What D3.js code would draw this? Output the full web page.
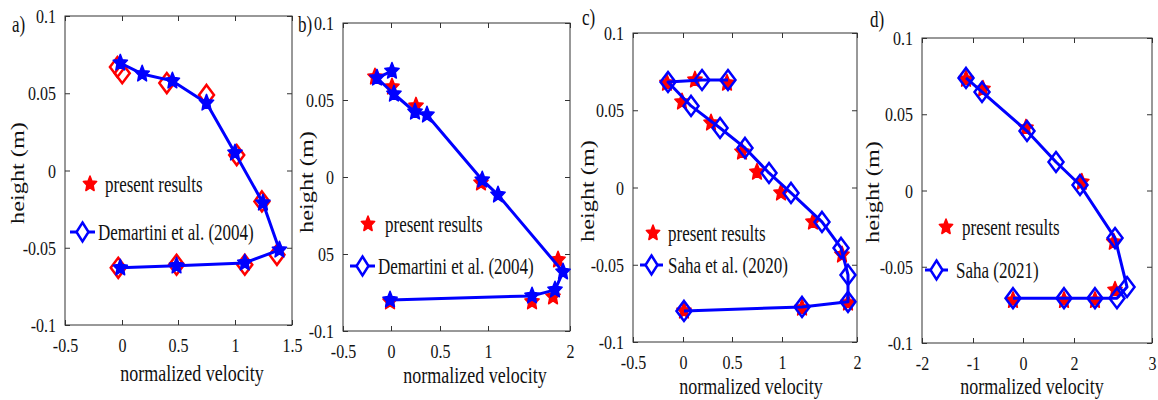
<!DOCTYPE html>
<html>
<head>
<meta charset="utf-8">
<script src="https://cdn.jsdelivr.net/npm/d3@7"></script>
<style>
  body { margin: 0; background: #fff; }
  svg { display: block; font-family: "Liberation Serif", "Times New Roman", serif; }
</style>
</head>
<body>
<svg id="chart" width="1158" height="400"></svg>
<script>
var colorRef = "#0000ff";
var colorPresent = "#ff0000";

// tick values / labels (the figure's x labels are not evenly spaced)
var yTicks = [-0.1, -0.05, 0, 0.05, 0.1];
var yLabels = ["-0.1", "-0.05", "0", "0.05", "0.1"];
var yLabelsB = ["-0.1", "05", "0", "0.05", "0.1"];
var aXTicks = [-0.5, 0, 0.5, 1, 1.5];
var aXLabels = ["-0.5", "0", "0.5", "1", "1.5"];
var bcXTicks = [-0.5, 0, 0.5, 1, 2];
var bcXLabels = ["-0.5", "0", "0.5", "1", "2"];
var dXTicks = [-2, -1, 0, 2, 3];
var dXLabels = ["-2", "-1", "0", "2", "3"];

// a) Demartini et al. (2004)
var aRefV = [-0.015, 0.18, 0.45, 0.75, 1.0, 1.245, 1.39, 1.086, 0.487, -0.015];
var aRefH = [0.0696, 0.0625, 0.058, 0.0437, 0.0114, -0.021, -0.0514, -0.0598, -0.0617, -0.063];
var aPresV = [-0.04, 0.002, 0.4, 0.75, 1.015, 1.236, 1.368, 1.086, 0.487, -0.033];
var aPresH = [0.067, 0.063, 0.0566, 0.0489, 0.010, -0.020, -0.0546, -0.061, -0.061, -0.063];

// b) Demartini et al. (2004)
var bRefV = [0.01, -0.146, 0.03, 0.245, 0.367, 0.94, 1.122, 1.915, 1.817, 1.537, -0.01];
var bRefH = [0.0688, 0.0643, 0.0539, 0.0422, 0.0403, -0.0019, -0.0116, -0.0616, -0.0733, -0.0772, -0.0798];
var bPresV = [-0.167, 0.01, 0.255, 0.927, 1.854, 1.793, 1.537, -0.01];
var bPresH = [0.065, 0.0585, 0.0461, -0.0038, -0.0538, -0.0778, -0.081, -0.081];

// c) Saha et al. (2020)
var cRefV = [0.459, 0.194, -0.15, 0.082, 0.378, 0.63, 0.87, 1.12, 1.533, 1.787, 1.88, 1.88, 1.267, 0.01];
var cRefH = [0.0696, 0.0696, 0.0683, 0.0528, 0.0385, 0.0256, 0.0094, -0.0035, -0.0223, -0.0391, -0.0566, -0.074, -0.0773, -0.0799];
var cPresV = [-0.16, 0.122, 0.449, -0.01, 0.286, 0.6, 0.75, 0.99, 1.413, 1.8, 1.88, 1.267, 0.01];
var cPresH = [0.0676, 0.0696, 0.0676, 0.0554, 0.0418, 0.023, 0.010, -0.0035, -0.0223, -0.0436, -0.0747, -0.078, -0.0799];

// d) Saha (2021)
var dRefV = [-1.137, -0.82, 0.157, 1.294, 2.077, 2.526, 2.68, 2.551, 2.269, 1.608, -0.2];
var dRefH = [0.0738, 0.0646, 0.039, 0.0187, 0.0036, -0.0312, -0.0633, -0.0706, -0.0706, -0.0706, -0.0706];
var dPresV = [-1.137, -0.8, 0.118, 2.1, 2.51, 2.526, 2.269, 1.608, -0.2];
var dPresH = [0.073, 0.0665, 0.041, 0.0055, -0.0338, -0.0653, -0.072, -0.072, -0.072];

var svg = d3.select("#chart");

/**
 * Five pointed star path, slightly taller than wide like the figure
 * @param {number} R outer radius
 */
function starPath(R) {
  var pts = [];
  for (var i = 0; i < 10; i++) {
    var r = i % 2 ? R * 0.47 : R;
    var a = -Math.PI / 2 + i * Math.PI / 5;
    pts.push([r * Math.cos(a), r * Math.sin(a) * 1.15]);
  }
  return "M" + pts.join("L") + "Z";
}

function diamondPath(hw, hh) {
  return "M0," + -hh + "L" + hw + ",0L0," + hh + "L" + -hw + ",0Z";
}

function zip(v, h) {
  return v.map(function(d, i) { return { v: d, h: h[i] }; });
}

/**
 * Text stretched vertically like the scanned figure
 */
function addText(parent, x, y, str, size, anchor, sy) {
  return parent.append("text")
    .attr("transform", "translate(" + x + "," + y + ") scale(1," + sy + ")")
    .attr("dy", "0.35em")
    .attr("text-anchor", anchor)
    .style("font-size", size + "px")
    .attr("fill", "#111")
    .text(str);
}

function drawMarker(g, kind, color, x0, y0, big) {
  if (kind === "star") {
    g.append("path")
      .attr("d", starPath(big ? 7.5 : 7))
      .attr("transform", "translate(" + x0 + "," + y0 + ")")
      .attr("fill", color)
      .attr("stroke", color)
      .attr("stroke-width", 1.5)
      .attr("stroke-linejoin", "round");
  } else {
    g.append("path")
      .attr("d", big ? diamondPath(7.5, 10) : diamondPath(7, 10.5))
      .attr("transform", "translate(" + x0 + "," + y0 + ")")
      .attr("fill", "none")
      .attr("stroke", color)
      .attr("stroke-width", 2.5)
      .attr("stroke-linejoin", "miter");
  }
}

var panels = [
  { tag: "a)", ref: "Demartini et al. (2004)", refData: zip(aRefV, aRefH), presData: zip(aPresV, aPresH),
    refMarker: "star", presMarker: "diamond", xTicks: aXTicks, xLabels: aXLabels, yLabels: yLabels,
    xRange: [65, 122, 178, 235, 292], top: 16, bottom: 325,
    tagPos: [12, 24], xTitle: [192, 373], yTitle: [24, 173],
    legStar: [90, 184], legLine: [70, 95, 232], legText: [105, 98] },
  { tag: "b)", ref: "Demartini et al. (2004)", refData: zip(bRefV, bRefH), presData: zip(bPresV, bPresH),
    refMarker: "star", presMarker: "star", xTicks: bcXTicks, xLabels: bcXLabels, yLabels: yLabelsB,
    xRange: [343, 391, 440, 488, 570], top: 23, bottom: 331,
    tagPos: [298, 24], xTitle: [475, 375], yTitle: [313, 182],
    legStar: [368, 224], legLine: [350, 375, 266], legText: [385, 378] },
  { tag: "c)", ref: "Saha et al. (2020)", refData: zip(cRefV, cRefH), presData: zip(cPresV, cPresH),
    refMarker: "diamond", presMarker: "star", xTicks: bcXTicks, xLabels: bcXLabels, yLabels: yLabels,
    xRange: [633, 683, 732, 782, 857], top: 33, bottom: 342,
    tagPos: [582, 17], xTitle: [751, 386], yTitle: [594, 191],
    legStar: [653, 233], legLine: [640, 663, 265], legText: [668, 668] },
  { tag: "d)", ref: "Saha (2021)", refData: zip(dRefV, dRefH), presData: zip(dPresV, dPresH),
    refMarker: "diamond", presMarker: "star", xTicks: dXTicks, xLabels: dXLabels, yLabels: yLabels,
    xRange: [922, 973, 1023, 1074, 1152], top: 38, bottom: 343,
    tagPos: [870, 19], xTitle: [1032, 386], yTitle: [879, 192],
    legStar: [946, 227], legLine: [925, 948, 270], legText: [962, 956] }
];

function drawPanel(p) {
  var left = p.xRange[0];
  var right = p.xRange[p.xRange.length - 1];
  var x = d3.scaleLinear().domain(p.xTicks).range(p.xRange);
  var y = d3.scaleLinear().domain([-0.1, 0.1]).range([p.bottom, p.top]);
  var g = svg.append("g");

  // Box
  g.append("rect")
    .attr("x", left).attr("y", p.top)
    .attr("width", right - left).attr("height", p.bottom - p.top)
    .attr("fill", "none").attr("stroke", "#333").attr("stroke-width", 1);

  // Axes, ticks pointing inward on all sides
  var xb = g.append("g")
    .attr("transform", "translate(0," + p.bottom + ")")
    .call(d3.axisBottom(x).tickValues(p.xTicks)
      .tickFormat(function(d, i) { return p.xLabels[i]; })
      .tickSizeInner(-5).tickSizeOuter(0));
  xb.selectAll("text")
    .attr("y", 0).attr("dy", "0.35em")
    .attr("transform", "translate(0,20) scale(1,1.2)");

  var xt = g.append("g")
    .attr("transform", "translate(0," + p.top + ")")
    .call(d3.axisTop(x).tickValues(p.xTicks).tickFormat("").tickSizeInner(-5).tickSizeOuter(0));

  var yl = g.append("g")
    .attr("transform", "translate(" + left + ",0)")
    .call(d3.axisLeft(y).tickValues(yTicks)
      .tickFormat(function(d, i) { return p.yLabels[i]; })
      .tickSizeInner(-5).tickSizeOuter(0).tickPadding(9));
  yl.selectAll("text").attr("dy", "0.35em").attr("transform", "scale(1,1.2)");

  var yr = g.append("g")
    .attr("transform", "translate(" + right + ",0)")
    .call(d3.axisRight(y).tickValues(yTicks).tickFormat("").tickSizeInner(-5).tickSizeOuter(0));

  [xb, xt, yl, yr].forEach(function(a) {
    a.select(".domain").remove();
    a.selectAll("line").attr("stroke", "#333");
    a.selectAll("text")
      .style("font-size", "16px")
      .style("font-family", "'Liberation Serif', serif")
      .attr("fill", "#111");
  });

  // Present results (red) below the reference line
  p.presData.forEach(function(d) {
    drawMarker(g, p.presMarker, colorPresent, x(d.v), y(d.h), true);
  });

  var line = d3.line()
    .x(function(d) { return x(d.v); })
    .y(function(d) { return y(d.h); });
  g.append("path")
    .datum(p.refData)
    .attr("fill", "none")
    .attr("stroke", colorRef)
    .attr("stroke-width", 3)
    .attr("stroke-linejoin", "round")
    .attr("d", line);
  p.refData.forEach(function(d) {
    drawMarker(g, p.refMarker, colorRef, x(d.v), y(d.h), true);
  });

  // Legend
  drawMarker(g, "star", colorPresent, p.legStar[0], p.legStar[1], false);
  addText(g, p.legText[0], p.legStar[1], "present results", 17, "start", 1.3);
  g.append("line")
    .attr("x1", p.legLine[0]).attr("x2", p.legLine[1])
    .attr("y1", p.legLine[2]).attr("y2", p.legLine[2])
    .attr("stroke", colorRef).attr("stroke-width", 3);
  g.append("path")
    .attr("d", diamondPath(6, 9.5))
    .attr("transform", "translate(" + (p.legLine[0] + p.legLine[1]) / 2 + "," + p.legLine[2] + ")")
    .attr("fill", "#fff").attr("stroke", colorRef).attr("stroke-width", 2.5);
  addText(g, p.legText[1], p.legLine[2], p.ref, 17, "start", 1.3);

  // Titles
  addText(g, p.xTitle[0], p.xTitle[1], "normalized velocity", 18, "middle", 1.25);
  g.append("text")
    .attr("transform", "translate(" + p.yTitle[0] + "," + p.yTitle[1] + ") rotate(-90) scale(1.35,1)")
    .attr("text-anchor", "middle")
    .style("font-size", "18px")
    .attr("fill", "#111")
    .text("height (m)");
  addText(g, p.tagPos[0], p.tagPos[1], p.tag, 17, "start", 1.3);
}

panels.forEach(drawPanel);
</script>
</body>
</html>
